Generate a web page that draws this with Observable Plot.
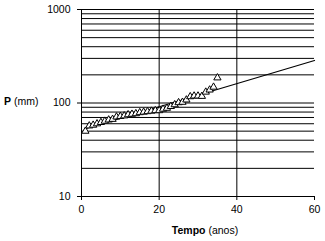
<!DOCTYPE html>
<html>
<head>
<meta charset="utf-8">
<script src="https://cdn.jsdelivr.net/npm/d3@7"></script>
<script src="https://cdn.jsdelivr.net/npm/@observablehq/plot@0.6"></script>
<style>
  html, body { margin: 0; padding: 0; background: #fff; }
  #chart svg { display: block; }
</style>
</head>
<body>
<div id="chart"></div>
<script>
// Observed data (ranked)
const years = [1,2,3,4,5,6,7,8,9,10,11,12,13,14,15,16,17,18,19,20,21,22,23,24,25,26,27,28,29,30,31,32,33,34,35];
const precip = [50,57,58,60,62,64,66,67,71,72,73,75,76,77,79,80,81,82,83,83,86,88,92,96,101,102,108,117,119,119,118,131,138,148,186];
// Fitted line endpoints
const fitX = [1, 60];
const fitP = [53, 285];
// Grid / ticks
const gridY = [10,20,30,40,50,60,70,80,90,100,200,300,400,500,600,700,800,900,1000];
const gridX = [20, 40];
const yTicks = [10, 100, 1000];
const xTicks = [0, 20, 40, 60];

const points = years.map((x, i) => ({x, p: precip[i]}));
const fit = fitX.map((x, i) => ({x, p: fitP[i]}));

const chart = Plot.plot({
  width: 325,
  height: 241,
  marginLeft: 81,
  marginRight: 11,
  marginTop: 9,
  marginBottom: 45,
  style: {fontFamily: "Liberation Sans, Arial, sans-serif", fontSize: "10.5px", color: "#000", background: "#fff"},
  x: {domain: [0, 60]},
  y: {type: "log", domain: [10, 1000]},
  marks: [
    Plot.ruleY(gridY, {stroke: "#000", strokeWidth: 1}),
    Plot.ruleX(gridX, {stroke: "#000", strokeWidth: 1}),
    Plot.ruleX([0], {stroke: "#000", strokeWidth: 1}),
    Plot.ruleY([10], {stroke: "#000", strokeWidth: 1}),
    Plot.axisY({ticks: yTicks, tickSize: 4, tickPadding: 7, tickFormat: d => String(d), label: null}),
    Plot.axisX({ticks: xTicks, tickSize: 4, tickPadding: 5, label: null}),
    Plot.line(fit, {x: "x", y: "p", stroke: "#000", strokeWidth: 1.2}),
    Plot.dot(points, {x: "x", y: "p", symbol: "triangle", r: 2.7, fill: "#fff", stroke: "#000", strokeWidth: 1})
  ]
});

const svg = d3.select(chart);
const yl = svg.append("text")
  .attr("x", 4).attr("y", 105)
  .attr("text-anchor", "start")
  .attr("font-size", "10.5px").attr("fill", "#000");
yl.append("tspan").attr("font-weight", "bold").text("P");
yl.append("tspan").text(" (mm)");

const xl = svg.append("text")
  .attr("x", 205).attr("y", 234)
  .attr("text-anchor", "middle")
  .attr("font-size", "10.5px").attr("fill", "#000");
xl.append("tspan").attr("font-weight", "bold").text("Tempo");
xl.append("tspan").text(" (anos)");

document.getElementById("chart").appendChild(chart);
</script>
</body>
</html>
